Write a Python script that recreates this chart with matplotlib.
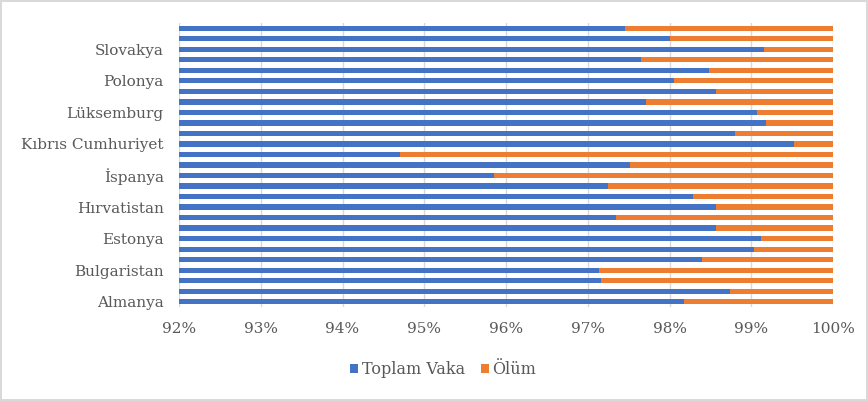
import matplotlib.pyplot as plt
import numpy as np

# EU countries, bottom to top (Turkish alphabetical order)
ulkeler = ['Almanya', 'Avusturya', 'Belçika', 'Bulgaristan', 'Çekya', 'Danimarka',
           'Estonya', 'Finlandiya', 'Fransa', 'Hırvatistan', 'Hollanda', 'İrlanda',
           'İspanya', 'İsveç', 'İtalya', 'Kıbrıs Cumhuriyet', 'Letonya', 'Litvanya',
           'Lüksemburg', 'Macaristan', 'Malta', 'Polonya', 'Portekiz', 'Romanya',
           'Slovakya', 'Slovenya', 'Yunanistan']

# share of total cases (%), the rest is deaths
toplam_vaka = [98.18, 98.74, 97.16, 97.14, 98.40, 99.03,
               99.12, 98.57, 97.35, 98.57, 98.29, 97.25,
               95.85, 97.52, 94.70, 99.52, 98.80, 99.18,
               99.07, 97.71, 98.57, 98.05, 98.48, 97.65,
               99.16, 98.00, 97.46]
olum = [100 - v for v in toplam_vaka]

blue = '#4472C4'
orange = '#ED7D31'
gray = '#595959'
font = 'DejaVu Serif'

fig = plt.figure(figsize=(8.68, 4.01), dpi=100)
fig.patch.set_edgecolor('#d9d9d9')
fig.patch.set_linewidth(1.5)
ax = fig.add_axes([179 / 868, 1 - 307 / 401, (833 - 179) / 868, (307 - 23) / 401])

y = np.arange(len(ulkeler))
ax.barh(y, toplam_vaka, height=0.5, color=blue, label='Toplam Vaka', zorder=3)
ax.barh(y, olum, left=toplam_vaka, height=0.5, color=orange, label='Ölüm', zorder=3)

ax.set_xlim(92, 100)
ax.set_ylim(-0.5, len(ulkeler) - 0.5)
ax.set_xticks(np.arange(92, 101, 1))
ax.set_xticklabels([f'{t}%' for t in range(92, 101)])
ax.set_yticks(y[::3])
ax.set_yticklabels(ulkeler[::3])
ax.xaxis.grid(True, color='#d9d9d9', linewidth=1, zorder=0)
for s in ax.spines.values():
    s.set_visible(False)
ax.tick_params(length=0, colors=gray, labelsize=11)
ax.tick_params(axis='x', pad=11)
ax.tick_params(axis='y', pad=11)
for lab in ax.get_xticklabels() + ax.get_yticklabels():
    lab.set_family(font)

fig.legend(loc='center', bbox_to_anchor=(443 / 868, 1 - 370 / 401), ncol=2, frameon=False,
           handlelength=0.5, handleheight=0.5, handletextpad=0.25, columnspacing=1.0,
           prop={'family': font, 'size': 11.5}, labelcolor=gray)

fig.savefig('out.png', dpi=100)
